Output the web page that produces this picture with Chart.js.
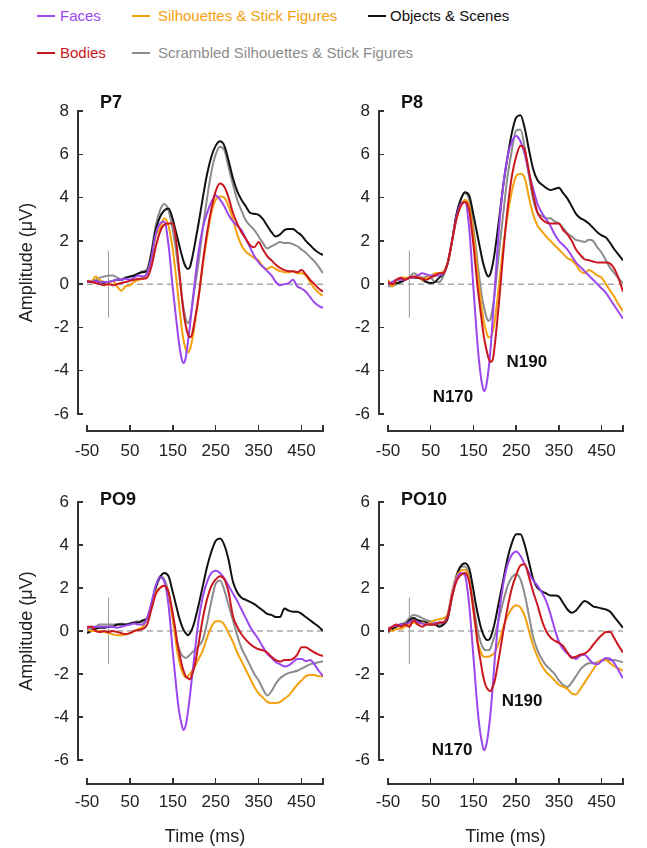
<!DOCTYPE html>
<html>
<head>
<meta charset="utf-8">
<script src="https://cdn.jsdelivr.net/npm/chart.js@4.4.0/dist/chart.umd.min.js"></script>
<style>
  body { margin: 0; background: #fff; width: 647px; height: 848px; position: relative; overflow: hidden;
         font-family: "Liberation Sans", Arial, sans-serif; }
  canvas { position: absolute; }
  .key { position: absolute; font-size: 15px; line-height: 18px; white-space: nowrap; }
  .key i { position: absolute; top: 8px; height: 2px; }
  .ax { position: absolute; background: #333; }
</style>
</head>
<body>
<div class="key" style="left:60px; top:7px; color:#9b47ee"><i style="left:-23px; width:18px; background:#9b47ee"></i>Faces</div>
<div class="key" style="left:158px; top:7px; color:#f5a00f"><i style="left:-26px; width:18px; background:#f5a00f"></i>Silhouettes &amp; Stick Figures</div>
<div class="key" style="left:390px; top:7px; color:#111"><i style="left:-22px; width:18px; background:#111"></i>Objects &amp; Scenes</div>
<div class="key" style="left:60px; top:44px; color:#c8171e"><i style="left:-23px; width:18px; background:#c8171e"></i>Bodies</div>
<div class="key" style="left:158px; top:44px; color:#8c8c8c"><i style="left:-26px; width:18px; background:#8c8c8c"></i>Scrambled Silhouettes &amp; Stick Figures</div>

<canvas id="p7" width="330" height="390" style="left:0px; top:85px"></canvas>
<canvas id="p8" width="317" height="390" style="left:330px; top:85px"></canvas>
<canvas id="po9" width="330" height="368" style="left:0px; top:480px"></canvas>
<canvas id="po10" width="317" height="368" style="left:330px; top:480px"></canvas>

<script>
// time points (ms), finer around the N170/N190 dip
const times = [-50, -40, -30, -20, -10, 0, 10, 20, 30, 40, 50, 60, 70, 80, 90,
  100, 110, 120, 130, 140, 150,
  155, 160, 165, 170, 175, 180, 185, 190, 195, 200,
  210, 220, 230, 240, 250, 260, 270, 280, 290, 300,
  310, 320, 330, 340, 350, 360, 370, 380, 390, 400,
  410, 420, 430, 440, 450, 460, 470, 480, 490, 500];
const xTicks = [-50, 50, 150, 250, 350, 450];
const yTicksTop = [-6, -4, -2, 0, 2, 4, 6, 8];
const yTicksBottom = [-6, -4, -2, 0, 2, 4, 6];
const zeroLine = [-50, 500];
const onsetMark = [-1.55, 1.55];

// ---- P7 ----
const p7Faces = [0.1, 0.1, 0.15, 0.1, 0.1, 0.1, 0.15, 0.2, 0.2, 0.25, 0.2, 0.3, 0.4, 0.35, 0.5,
  1.2, 2.3, 2.8, 2.9, 1.8, -0.2,
  -1.1, -2.0, -2.8, -3.4, -3.65, -3.4, -2.7, -1.9, -1.0, -0.1,
  1.5, 2.6, 3.3, 3.8, 4.1, 3.9, 3.6, 3.2, 2.9, 2.7,
  2.5, 2.1, 1.7, 1.3, 1.0, 0.8, 0.6, 0.4, 0.1, -0.05,
  0.0, 0.05, 0.2, -0.1, -0.2, -0.35, -0.6, -0.85, -1.0, -1.1];
const p7Bodies = [0.15, 0.1, 0.05, 0.0, -0.05, 0.0, -0.05, 0.0, 0.05, 0.1, 0.15, 0.2, 0.25, 0.25, 0.3,
  0.8, 1.7, 2.4, 2.75, 2.8, 2.8,
  2.4, 1.6, 0.6, -0.4, -1.3, -1.9, -2.3, -2.45, -2.3, -1.8,
  -0.6, 1.0, 2.4, 3.5, 4.3, 4.65, 4.5, 4.0, 3.3, 2.8,
  2.4, 2.1, 1.8, 1.7, 1.95, 1.6, 1.3, 1.1, 0.9, 0.75,
  0.65, 0.6, 0.6, 0.55, 0.65, 0.45, 0.2, 0.0, -0.2, -0.35];
const p7Silhouettes = [0.15, 0.1, 0.35, 0.2, 0.1, 0.05, 0.15, -0.1, -0.3, -0.1, -0.05, 0.1, 0.2, 0.25, 0.5,
  1.1, 2.2, 2.6, 3.05, 2.7, 1.6,
  0.8, -0.1, -1.0, -1.9, -2.6, -3.0, -3.15, -3.0, -2.6, -2.0,
  -0.6, 0.9, 2.2, 3.3, 3.9, 4.05, 4.0, 3.6, 3.0, 2.3,
  1.8, 1.5, 1.35, 1.2, 1.1, 0.8, 0.7, 0.8, 0.7, 0.6,
  0.55, 0.55, 0.6, 0.5, 0.5, 0.4, 0.1, -0.2, -0.4, -0.55];
const p7Scrambled = [0.1, 0.15, 0.2, 0.3, 0.35, 0.4, 0.4, 0.3, 0.2, 0.3, 0.35, 0.4, 0.5, 0.6, 0.7,
  1.5, 2.7, 3.4, 3.7, 3.4, 2.5,
  1.9, 1.2, 0.4, -0.4, -1.1, -1.6, -1.8, -1.6, -1.0, -0.3,
  1.0, 2.6, 4.0, 5.2, 6.0, 6.35, 6.2, 5.4, 4.6, 3.9,
  3.4, 2.95, 2.7, 2.5, 2.2, 1.9, 1.65, 1.75, 1.85, 1.95,
  1.9, 1.9, 1.85, 1.75, 1.6, 1.45, 1.25, 1.05, 0.8, 0.5];
const p7Objects = [0.1, 0.1, 0.15, 0.1, 0.05, 0.1, 0.15, 0.2, 0.2, 0.3, 0.35, 0.4, 0.5, 0.55, 0.6,
  1.4, 2.5, 3.1, 3.4, 3.5, 3.0,
  2.6, 2.2, 1.8, 1.4, 1.05, 0.8, 0.7, 0.8, 1.2, 1.7,
  2.8, 4.0, 5.1, 5.9, 6.4, 6.6, 6.4, 5.7, 4.9, 4.3,
  3.9, 3.6, 3.3, 3.25, 3.2, 3.0, 2.7, 2.4, 2.2, 2.3,
  2.5, 2.55, 2.55, 2.4, 2.25, 2.0, 1.8, 1.6, 1.45, 1.35];

// ---- P8 ----
const p8Faces = [0.0, 0.1, 0.2, 0.2, 0.2, 0.3, 0.3, 0.4, 0.5, 0.45, 0.4, 0.4, 0.4, 0.5, 1.0,
  2.0, 3.1, 3.7, 3.8, 2.6, -0.2,
  -1.6, -2.9, -3.9, -4.6, -4.95, -4.7, -4.0, -3.0, -1.6, -0.2,
  2.6, 4.6, 5.9, 6.6, 6.85, 6.6, 6.0, 5.1, 4.4, 3.7,
  3.3, 3.0, 2.7, 2.3, 2.0, 1.8, 1.6, 1.3, 1.0, 0.8,
  0.6, 0.4, 0.2, 0.0, -0.2, -0.4, -0.7, -1.0, -1.3, -1.6];
const p8Bodies = [0.1, 0.0, 0.2, 0.3, 0.2, 0.3, 0.35, 0.3, 0.25, 0.2, 0.3, 0.4, 0.5, 0.5, 1.0,
  2.0, 3.0, 3.6, 3.8, 3.4, 1.8,
  0.8, -0.2, -1.0, -1.8, -2.5, -3.0, -3.4, -3.6, -3.5, -2.8,
  -0.8, 1.5, 3.5, 5.0, 5.9, 6.4, 6.2, 5.2, 4.1, 3.3,
  3.0, 2.85, 2.8, 2.8, 2.8, 2.5, 2.3, 2.0, 1.6, 1.35,
  1.15, 1.1, 1.05, 1.0, 1.0, 1.0, 0.95, 0.7, 0.25, -0.35];
const p8Silhouettes = [0.2, -0.1, 0.2, 0.3, 0.3, 0.3, 0.3, 0.4, 0.2, 0.3, 0.35, 0.5, 0.5, 0.6, 1.0,
  2.0, 3.0, 3.6, 3.9, 3.6, 2.3,
  1.4, 0.5, -0.4, -1.2, -1.8, -2.2, -2.45, -2.45, -2.2, -1.7,
  0.0, 1.8, 3.2, 4.3, 5.0, 5.1, 4.9, 4.0, 3.2, 2.7,
  2.45, 2.2, 2.0, 1.8, 1.6, 1.4, 1.2, 1.1, 0.9, 0.6,
  0.5, 0.65, 0.55, 0.4, 0.3, 0.0, -0.3, -0.6, -0.95, -1.25];
const p8Scrambled = [-0.1, -0.1, 0.0, 0.1, 0.2, 0.3, 0.5, 0.4, 0.3, 0.35, 0.3, 0.1, 0.1, 0.4, 1.0,
  2.0, 3.2, 3.9, 4.2, 3.9, 2.6,
  1.8, 0.9, 0.1, -0.6, -1.1, -1.5, -1.7, -1.6, -1.1, -0.4,
  1.5, 3.3, 5.0, 6.2, 7.1, 7.15, 6.3, 5.0, 3.9, 3.3,
  3.15, 3.05, 3.05, 2.9, 2.8, 2.6, 2.35, 2.2, 2.05, 2.0,
  1.95, 2.05, 2.0, 1.7, 1.45, 1.1, 0.75, 0.5, 0.25, 0.05];
const p8Objects = [0.0, 0.0, 0.05, 0.1, 0.2, 0.3, 0.3, 0.3, 0.2, 0.1, 0.05, 0.1, 0.3, 0.5, 1.0,
  2.0, 3.2, 3.9, 4.25, 4.1, 3.2,
  2.7, 2.2, 1.7, 1.2, 0.8, 0.5, 0.35, 0.5, 0.9, 1.5,
  3.0, 4.6, 5.9, 7.0, 7.7, 7.8, 7.2, 6.2, 5.3, 4.8,
  4.6, 4.45, 4.35, 4.4, 4.45, 4.2, 3.95, 3.6, 3.25, 3.05,
  2.95, 2.8, 2.6, 2.4, 2.25, 2.15, 1.9, 1.6, 1.35, 1.1];

// ---- PO9 ----
const po9Faces = [0.1, 0.2, 0.2, 0.2, 0.2, 0.2, 0.2, 0.15, 0.2, 0.25, 0.3, 0.35, 0.3, 0.3, 0.6,
  1.3, 2.1, 2.5, 2.3, 1.2, -1.0,
  -2.0, -3.0, -3.8, -4.3, -4.6, -4.4, -3.8, -3.0, -2.1, -1.2,
  0.5, 1.6, 2.3, 2.7, 2.8, 2.7, 2.45, 2.1, 1.75, 1.4,
  1.0, 0.6, 0.2, -0.1, -0.4, -0.75, -1.05, -1.25, -1.45, -1.55,
  -1.65, -1.6, -1.45, -1.3, -1.3, -1.4, -1.35, -1.55, -1.85, -2.1];
const po9Bodies = [0.2, 0.2, 0.0, -0.05, 0.0, -0.05, 0.0, -0.05, -0.1, -0.15, -0.1, 0.0, 0.05, 0.1, 0.3,
  1.0, 1.7, 2.0, 2.1, 1.8, 0.8,
  0.2, -0.5, -1.0, -1.5, -1.85, -2.1, -2.2, -2.25, -2.0, -1.7,
  -0.6, 0.6, 1.5, 2.1, 2.4, 2.55, 2.4, 1.8, 0.7, 0.2,
  -0.15, -0.4, -0.6, -0.75, -0.85, -0.9, -1.0, -1.2, -1.35, -1.42,
  -1.35, -1.35, -1.3, -1.1, -0.75, -0.75, -0.88, -1.0, -1.1, -1.16];
const po9Silhouettes = [0.1, 0.0, 0.0, 0.0, -0.05, -0.1, -0.15, -0.2, -0.2, -0.15, -0.1, 0.0, 0.1, 0.2, 0.6,
  1.2, 1.8, 2.0, 2.1, 1.8, 0.5,
  -0.2, -0.9, -1.4, -1.8, -2.05, -2.15, -2.1, -2.0, -1.85, -1.7,
  -1.3, -0.9, -0.3, 0.2, 0.45, 0.45, 0.3, -0.1, -0.5, -1.0,
  -1.4, -1.8, -2.2, -2.6, -2.9, -3.1, -3.3, -3.35, -3.35, -3.3,
  -3.15, -3.0, -2.75, -2.5, -2.3, -2.1, -2.05, -2.05, -2.1, -2.1];
const po9Scrambled = [0.0, 0.1, 0.2, 0.3, 0.3, 0.3, 0.3, 0.3, 0.35, 0.3, 0.3, 0.4, 0.45, 0.4, 0.6,
  1.2, 2.0, 2.55, 2.4, 1.8, 0.6,
  0.0, -0.5, -0.85, -1.1, -1.2, -1.25, -1.2, -1.1, -1.0, -0.9,
  -0.7, -0.4, 0.4, 1.4, 2.2, 2.35, 1.9, 1.2, 0.5, -0.2,
  -0.8, -1.2, -1.6, -2.0, -2.3, -2.7, -3.0, -2.8, -2.45, -2.2,
  -2.05, -1.95, -1.9, -1.85, -1.75, -1.65, -1.55, -1.5, -1.45, -1.4];
const po9Objects = [-0.1, 0.0, 0.1, 0.15, 0.15, 0.2, 0.2, 0.3, 0.3, 0.3, 0.35, 0.4, 0.4, 0.5, 0.6,
  1.2, 2.0, 2.5, 2.7, 2.55, 1.8,
  1.4, 1.0, 0.6, 0.3, 0.05, -0.1, -0.2, -0.1, 0.1, 0.4,
  1.2, 2.1, 3.0, 3.7, 4.2, 4.3, 4.0, 3.3, 2.3, 1.8,
  1.55, 1.45, 1.35, 1.25, 1.1, 0.95, 0.8, 0.75, 0.65, 0.65,
  1.05, 0.95, 0.9, 0.9, 0.8, 0.65, 0.5, 0.35, 0.2, 0.0];

// ---- PO10 ----
const po10Faces = [0.1, 0.2, 0.25, 0.3, 0.3, 0.4, 0.5, 0.4, 0.35, 0.3, 0.3, 0.35, 0.4, 0.4, 0.7,
  1.7, 2.4, 2.7, 2.6, 1.2, -1.2,
  -2.5, -3.7, -4.6, -5.2, -5.55, -5.3, -4.7, -3.8, -2.6, -1.3,
  0.8, 2.2, 3.1, 3.55, 3.7, 3.5, 3.1, 2.7, 2.35, 2.1,
  1.8, 1.4, 0.8, 0.1, -0.5, -0.85, -1.05, -1.2, -1.3, -1.15,
  -1.1, -1.3, -1.5, -1.55, -1.4, -1.25, -1.3, -1.5, -1.85, -2.2];
const po10Bodies = [0.0, 0.2, 0.3, 0.2, 0.3, 0.2, 0.5, 0.3, 0.2, 0.3, 0.3, 0.3, 0.4, 0.4, 0.7,
  1.6, 2.3, 2.6, 2.7, 2.3, 1.0,
  0.2, -0.6, -1.2, -1.8, -2.3, -2.6, -2.75, -2.8, -2.6, -2.3,
  -1.2, 0.0, 1.1, 2.0, 2.6, 3.05, 3.1, 2.5, 1.8, 1.2,
  0.5, 0.0, -0.3, -0.45, -0.55, -0.7, -1.0, -1.25, -1.2, -1.1,
  -1.05, -0.9, -0.65, -0.4, -0.2, -0.05, -0.05, -0.35, -0.7, -1.0];
const po10Silhouettes = [0.2, 0.0, 0.1, 0.1, 0.2, 0.3, 0.4, 0.3, 0.4, 0.3, 0.4, 0.5, 0.55, 0.6, 0.8,
  1.8, 2.5, 2.8, 2.85, 2.4, 0.9,
  0.2, -0.5, -0.85, -1.1, -1.2, -1.2, -1.2, -1.15, -1.1, -1.0,
  -0.5, 0.2, 0.7, 1.05, 1.2, 1.1, 0.7, 0.0, -0.7, -1.2,
  -1.6, -1.9, -2.1, -2.3, -2.5, -2.6, -2.7, -2.9, -2.95, -2.7,
  -2.4, -2.1, -1.8, -1.5, -1.35, -1.35, -1.5, -1.65, -1.75, -1.85];
const po10Scrambled = [-0.1, 0.1, 0.2, 0.3, 0.4, 0.6, 0.75, 0.7, 0.6, 0.5, 0.45, 0.4, 0.3, 0.4, 0.8,
  1.8, 2.6, 3.0, 3.0, 2.5, 1.2,
  0.6, 0.0, -0.4, -0.7, -0.85, -0.9, -0.9, -0.8, -0.5, -0.2,
  0.6, 1.4, 2.1, 2.5, 2.65, 2.4, 1.7, 0.7, -0.3, -0.9,
  -1.3, -1.6, -1.8, -2.0, -2.3, -2.5, -2.6, -2.4, -2.1, -1.8,
  -1.6, -1.5, -1.5, -1.45, -1.4, -1.35, -1.35, -1.35, -1.4, -1.45];
const po10Objects = [0.0, 0.1, 0.2, 0.3, 0.3, 0.5, 0.6, 0.5, 0.45, 0.4, 0.3, 0.3, 0.2, 0.3, 0.6,
  1.6, 2.5, 3.0, 3.15, 2.9, 1.9,
  1.3, 0.8, 0.35, 0.0, -0.25, -0.4, -0.42, -0.3, 0.0, 0.4,
  1.4, 2.4, 3.4, 4.1, 4.5, 4.5, 4.0, 3.2, 2.4, 2.0,
  1.85, 1.75, 1.65, 1.65, 1.6, 1.3, 1.0, 0.85, 0.95, 1.2,
  1.4, 1.3, 1.15, 1.1, 1.05, 1.0, 0.9, 0.65, 0.4, 0.15];

const FACES = "#9b47ee";
const SILH = "#f5a00f";
const OBJECTS = "#111111";
const BODIES = "#c8171e";
const SCRAMBLED = "#8c8c8c";
const FONT = "'Liberation Sans', Arial, sans-serif";

function pairs(values) {
  return values.map((v, i) => ({ x: times[i], y: v }));
}

function curve(values, color) {
  return {
    data: pairs(values),
    borderColor: color,
    borderWidth: 2,
    pointRadius: 0,
    cubicInterpolationMode: "monotone",
    fill: false,
  };
}

// panel name and N170/N190 labels
const eegLabels = {
  id: "eegLabels",
  afterDraw(chart, args, opts) {
    const { ctx, chartArea } = chart;
    const xs = chart.scales.x;
    const ys = chart.scales.y;
    ctx.save();
    ctx.fillStyle = "#111";
    ctx.font = "bold 18px " + FONT;
    ctx.textAlign = "left";
    ctx.textBaseline = "alphabetic";
    ctx.fillText(opts.title, chartArea.left + 13, chartArea.top + opts.titleDy);

    ctx.font = "bold 17px " + FONT;
    ctx.textAlign = "center";
    ctx.textBaseline = "middle";
    (opts.notes || []).forEach((n) => {
      ctx.fillText(n.text, xs.getPixelForValue(n.x), ys.getPixelForValue(n.y));
    });
    ctx.restore();
  },
};

// keep the chart area where the fixed scale boxes put it (no label overflow padding)
function noOverflow(scale) {
  scale.paddingLeft = 0;
  scale.paddingRight = 0;
  scale.paddingTop = 0;
  scale.paddingBottom = 0;
}

function bar(x, y, w, h) {
  const d = document.createElement("div");
  d.className = "ax";
  d.style.left = x + "px";
  d.style.top = y + "px";
  d.style.width = w + "px";
  d.style.height = h + "px";
  document.body.appendChild(d);
}

// detached R-style axes, placed from the chart's own scales
function addAxes(chart, canvas, cfg) {
  const ox = parseFloat(canvas.style.left);
  const oy = parseFloat(canvas.style.top);
  const xs = chart.scales.x;
  const ys = chart.scales.y;
  const lw = 1.5;

  const ax = ox + chart.chartArea.left - 9;
  const yTop = oy + ys.getPixelForValue(cfg.yMax);
  const yBot = oy + ys.getPixelForValue(-6);
  bar(ax - lw / 2, yTop - lw / 2, lw, yBot - yTop + lw);
  cfg.yTicks.forEach((v) => {
    bar(ax, oy + ys.getPixelForValue(v) - lw / 2, 5, lw);
  });

  const ay = oy + chart.chartArea.bottom + cfg.xGap;
  const x0 = ox + xs.getPixelForValue(-50);
  const x1 = ox + xs.getPixelForValue(500);
  bar(x0 - lw / 2, ay - lw / 2, x1 - x0 + lw, lw);
  bar(x1 - lw / 2, ay - 6, lw, 6);
  xTicks.forEach((v) => {
    bar(ox + xs.getPixelForValue(v) - lw / 2, ay - 6, lw, 6);
  });
}

function drawPanel(id, set, cfg) {
  const datasets = [
    curve(set.bodies, BODIES),
    curve(set.faces, FACES),
    curve(set.silhouettes, SILH),
    curve(set.objects, OBJECTS),
    curve(set.scrambled, SCRAMBLED),
    {
      data: zeroLine.map((t) => ({ x: t, y: 0 })),
      borderColor: "#a8a8a8",
      borderWidth: 1.5,
      borderDash: [6, 4],
      pointRadius: 0,
    },
    {
      data: onsetMark.map((v) => ({ x: 0, y: v })),
      borderColor: "#9a9a9a",
      borderWidth: 1,
      pointRadius: 0,
    },
  ];

  const canvas = document.getElementById(id);
  const chart = new Chart(canvas, {
    type: "line",
    data: { datasets },
    options: {
      responsive: false,
      animation: false,
      devicePixelRatio: 1,
      layout: {
        padding: { left: 0, top: cfg.top, right: cfg.right, bottom: 0 },
      },
      scales: {
        x: {
          type: "linear",
          min: -50,
          max: 500,
          afterBuildTicks: (scale) => {
            scale.ticks = xTicks.map((v) => ({ value: v }));
          },
          afterFit: (scale) => {
            scale.height = cfg.xHeight;
            noOverflow(scale);
          },
          grid: { display: false, drawTicks: false },
          border: { display: false },
          ticks: {
            color: "#222",
            padding: cfg.xPad,
            maxRotation: 0,
            autoSkip: false,
            font: { family: FONT, size: 17 },
          },
          title: {
            display: cfg.showTime,
            text: "Time (ms)",
            color: "#222",
            padding: { top: 0, bottom: 0 },
            font: { family: FONT, size: 18 },
          },
        },
        y: {
          min: -6,
          max: cfg.yMax,
          afterBuildTicks: (scale) => {
            scale.ticks = cfg.yTicks.map((v) => ({ value: v }));
          },
          afterFit: (scale) => {
            scale.width = cfg.yWidth;
            noOverflow(scale);
          },
          grid: { display: false, drawTicks: false },
          border: { display: false },
          ticks: {
            color: "#222",
            padding: 18,
            font: { family: FONT, size: 17 },
          },
          title: {
            display: cfg.showAmp,
            text: "Amplitude (μV)",
            color: "#222",
            padding: { top: 16, bottom: 0 },
            font: { family: FONT, size: 18 },
          },
        },
      },
      plugins: {
        legend: { display: false },
        tooltip: { enabled: false },
        eegLabels: {
          title: cfg.title,
          titleDy: cfg.titleDy,
          notes: cfg.notes,
        },
      },
    },
    plugins: [eegLabels],
  });
  addAxes(chart, canvas, cfg);
}

drawPanel("p7",
  { faces: p7Faces, bodies: p7Bodies, silhouettes: p7Silhouettes, scrambled: p7Scrambled, objects: p7Objects },
  { title: "P7", titleDy: -3, yMax: 8, yTicks: yTicksTop, top: 26, right: 7, yWidth: 87,
    xHeight: 61, xPad: 27, xGap: 17, showTime: false, showAmp: true, notes: [] });

drawPanel("p8",
  { faces: p8Faces, bodies: p8Bodies, silhouettes: p8Silhouettes, scrambled: p8Scrambled, objects: p8Objects },
  { title: "P8", titleDy: -3, yMax: 8, yTicks: yTicksTop, top: 26, right: 24, yWidth: 58,
    xHeight: 61, xPad: 27, xGap: 17, showTime: false, showAmp: false,
    notes: [{ text: "N170", x: 102, y: -5.25 }, { text: "N190", x: 275, y: -3.63 }] });

drawPanel("po9",
  { faces: po9Faces, bodies: po9Bodies, silhouettes: po9Silhouettes, scrambled: po9Scrambled, objects: po9Objects },
  { title: "PO9", titleDy: 3, yMax: 6, yTicks: yTicksBottom, top: 22, right: 7, yWidth: 87,
    xHeight: 88, xPad: 32, xGap: 24, showTime: true, showAmp: true, notes: [] });

drawPanel("po10",
  { faces: po10Faces, bodies: po10Bodies, silhouettes: po10Silhouettes, scrambled: po10Scrambled, objects: po10Objects },
  { title: "PO10", titleDy: 3, yMax: 6, yTicks: yTicksBottom, top: 22, right: 24, yWidth: 58,
    xHeight: 88, xPad: 32, xGap: 24, showTime: true, showAmp: false,
    notes: [{ text: "N170", x: 100, y: -5.53 }, { text: "N190", x: 264, y: -3.26 }] });
</script>
</body>
</html>
